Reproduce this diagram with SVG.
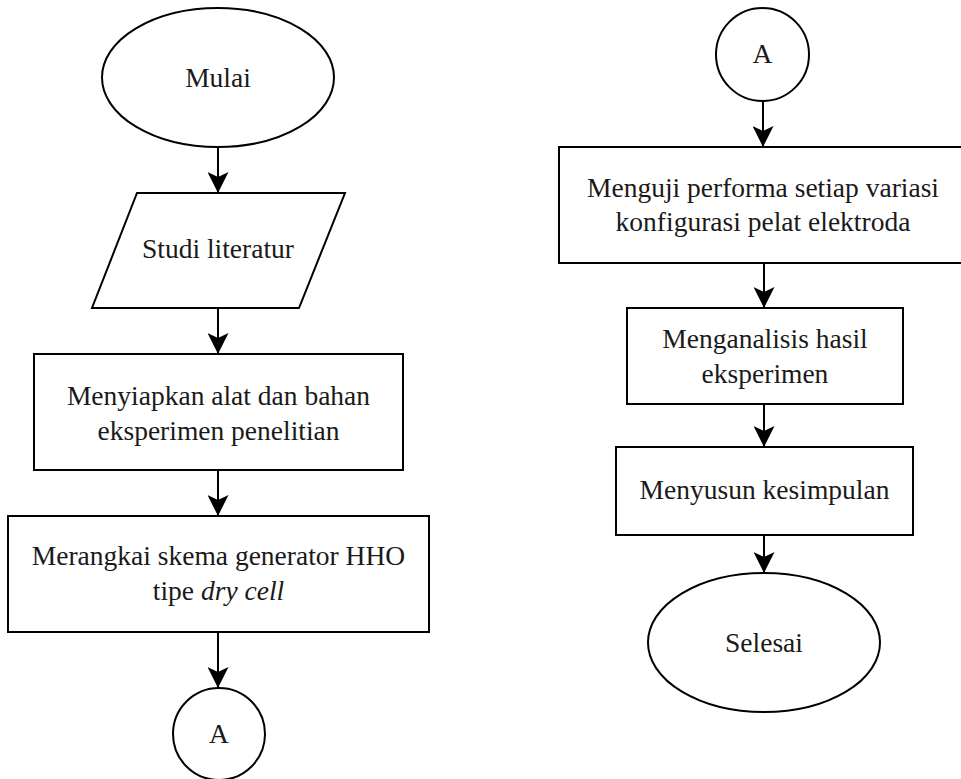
<svg xmlns="http://www.w3.org/2000/svg" width="961" height="779" viewBox="0 0 961 779">
<style>
.s{fill:#fff;stroke:#000;stroke-width:2}
.t{font-family:"Liberation Serif","Times New Roman",serif;font-size:27.5px;fill:#1a1a1a;text-anchor:middle}
.c{fill:none;stroke:#000;stroke-width:2}
</style>
<defs>
<marker id="ah" markerUnits="userSpaceOnUse" viewBox="0 0 21 21" markerWidth="21" markerHeight="21" refX="21" refY="10.5" orient="auto">
<path d="M0,0 L21,10.5 L0,21 L5,10.5 Z" fill="#000"/>
</marker>
</defs>
<rect width="961" height="779" fill="#fff"/>
<g id="connectors">
<line class="c" x1="218" y1="147" x2="218" y2="193" marker-end="url(#ah)"/>
<line class="c" x1="218" y1="308" x2="218" y2="354" marker-end="url(#ah)"/>
<line class="c" x1="218" y1="470" x2="218" y2="516" marker-end="url(#ah)"/>
<line class="c" x1="218" y1="632" x2="218" y2="688" marker-end="url(#ah)"/>
<line class="c" x1="763" y1="101" x2="763" y2="147" marker-end="url(#ah)"/>
<line class="c" x1="764" y1="263" x2="764" y2="308" marker-end="url(#ah)"/>
<line class="c" x1="764" y1="404" x2="764" y2="447" marker-end="url(#ah)"/>
<line class="c" x1="764" y1="535" x2="764" y2="573" marker-end="url(#ah)"/>
</g>
<g id="mulai">
<ellipse class="s" cx="218" cy="77.5" rx="116" ry="69.5"/>
<text class="t" x="218" y="87">Mulai</text>
</g>
<g id="studi">
<polygon class="s" points="137,193 345,193 299,308 92,308"/>
<text class="t" x="218" y="258">Studi literatur</text>
</g>
<g id="menyiapkan">
<rect class="s" x="34" y="354" width="369" height="116"/>
<text class="t" x="218.5" y="405">Menyiapkan alat dan bahan</text>
<text class="t" x="218.5" y="440">eksperimen penelitian</text>
</g>
<g id="merangkai">
<rect class="s" x="8" y="516" width="421" height="116"/>
<text class="t" x="218.5" y="565">Merangkai skema generator HHO</text>
<text class="t" x="218.5" y="600">tipe <tspan font-style="italic">dry cell</tspan></text>
</g>
<g id="connA1">
<circle class="s" cx="219" cy="734" r="46"/>
<text class="t" x="219" y="743">A</text>
</g>
<g id="connA2">
<circle class="s" cx="762.5" cy="54.5" r="46.5"/>
<text class="t" x="762.5" y="63">A</text>
</g>
<g id="menguji">
<rect class="s" x="559" y="147" width="408" height="116"/>
<text class="t" x="763" y="197">Menguji performa setiap variasi</text>
<text class="t" x="763" y="231">konfigurasi pelat elektroda</text>
</g>
<g id="menganalisis">
<rect class="s" x="627" y="308" width="276" height="96"/>
<text class="t" x="765" y="348">Menganalisis hasil</text>
<text class="t" x="765" y="383">eksperimen</text>
</g>
<g id="menyusun">
<rect class="s" x="616" y="447" width="297" height="88"/>
<text class="t" x="764.5" y="499">Menyusun kesimpulan</text>
</g>
<g id="selesai">
<ellipse class="s" cx="764" cy="642.5" rx="116" ry="69.5"/>
<text class="t" x="764" y="652">Selesai</text>
</g>
</svg>
